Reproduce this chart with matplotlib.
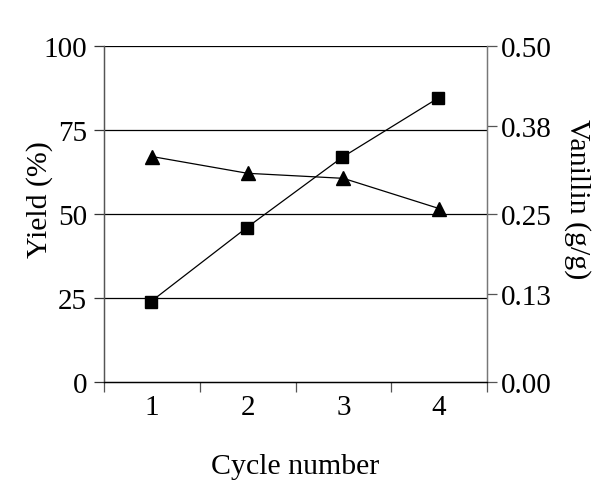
import matplotlib.pyplot as plt
import numpy as np

# data
cycles = [1, 2, 3, 4]
yield_pct = [67.0, 62.0, 60.5, 51.5]          # triangles, left axis
vanillin = [0.119, 0.229, 0.334, 0.422]       # squares, right axis
yticks_left = [0, 25, 50, 75, 100]
yticks_right = [0.00, 0.13, 0.25, 0.38, 0.50]

plt.rcParams['font.family'] = ['Liberation Serif', 'DejaVu Serif']

fig = plt.figure(figsize=(6.0, 5.02), dpi=100)
ax = fig.add_axes([0.1733, 0.238, 0.6384, 0.669])
ax2 = ax.twinx()

x = np.array(cycles)

# horizontal grid lines
for v in yticks_left[1:]:
    ax.axhline(v, color='black', linewidth=0.9, zorder=1)

ax2.plot(x - 0.01, vanillin, color='black', linewidth=0.9, marker='s',
         markersize=9, zorder=3)
ax.plot(x, yield_pct, color='black', linewidth=0.9, marker='^',
        markersize=10, zorder=3)

ax.set_xlim(0.5, 4.5)
ax.set_ylim(0, 100)
ax2.set_ylim(0, 0.50)

ax.set_xticks(cycles)
ax.set_xticks([0.5, 1.5, 2.5, 3.5, 4.5], minor=True)
ax.tick_params(axis='x', which='major', length=0, labelsize=21, pad=9)
ax.tick_params(axis='x', which='minor', length=7, width=0.9,
               direction='out', color='#555555')
ax.set_yticks(yticks_left)
ax.tick_params(axis='y', length=7, width=0.9, direction='out', labelsize=21,
               pad=5, color='#333333')
ax2.set_yticks(yticks_right)
ax2.set_yticklabels([f'{v:.2f}' for v in yticks_right])
ax2.tick_params(axis='y', length=7, width=0.9, direction='out', labelsize=21,
                pad=3, color='#555555')

for a in (ax, ax2):
    a.spines['top'].set_visible(False)
    a.spines['left'].set_color('#555555')
    a.spines['right'].set_color('#777777')
    a.spines['bottom'].set_color('black')
    for s in a.spines.values():
        s.set_linewidth(0.9)

ax.set_xlabel('Cycle number', fontsize=21.5, labelpad=24)
ax.set_ylabel('Yield (%)', fontsize=21.5, labelpad=-7)
ax2.set_ylabel('Vanillin (g/g)', fontsize=21.5, rotation=270, labelpad=28)
ax.yaxis.label.set_y(0.545)
ax2.yaxis.label.set_y(0.545)

fig.savefig('out.png', dpi=100)
